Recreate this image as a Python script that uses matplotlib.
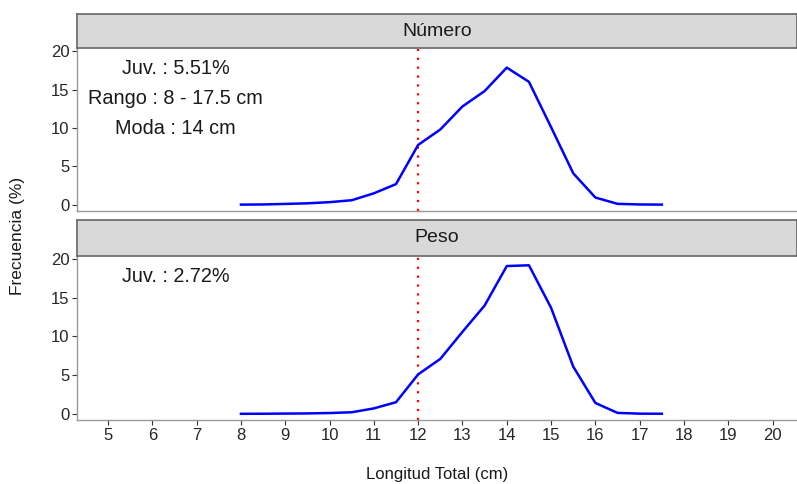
import numpy as np
import matplotlib
matplotlib.use("Agg")
import matplotlib.pyplot as plt

plt.rcParams['font.family'] = ['Liberation Sans', 'DejaVu Sans']

# longitud total (cm)
tallas = [8, 8.5, 9, 9.5, 10, 10.5, 11, 11.5, 12, 12.5, 13, 13.5, 14, 14.5,
          15, 15.5, 16, 16.5, 17, 17.5]
# frecuencia en numero (%)
numero = [0.03, 0.05, 0.12, 0.2, 0.35, 0.6, 1.5, 2.7, 7.8, 9.8, 12.8, 14.8,
          17.85, 16.0, 10.1, 4.1, 0.95, 0.13, 0.05, 0.03]
# frecuencia en peso (%)
peso = [0.0, 0.01, 0.03, 0.05, 0.1, 0.2, 0.7, 1.5, 5.1, 7.1, 10.6, 14.0,
        19.1, 19.2, 13.7, 6.1, 1.4, 0.12, 0.02, 0.01]

paneles = ['Número', 'Peso']
textos = [['Juv. : 5.51%', 'Rango : 8 - 17.5 cm', 'Moda : 14 cm'],
          ['Juv. : 2.72%']]
talla_juv = 12

W, H = 797, 484
fig = plt.figure(figsize=(W / 100, H / 100), dpi=100)

def fx(px):
    return px / W

def fy(py):
    return 1 - py / H

# pixel layout: (strip top, strip bottom, plot bottom)
layout = [(14, 48, 211), (220, 256, 420)]
left_px, right_px = 77, 797

for i, (nombre, serie) in enumerate(zip(paneles, [numero, peso])):
    st, sb, pb = layout[i]
    ax = fig.add_axes([fx(left_px), fy(pb), fx(right_px - left_px), fy(sb) - fy(pb)])
    ax.plot(tallas, serie, color='#0000FF', lw=1.8, zorder=3)
    ax.axvline(talla_juv, color='red', ls=(0, (1, 3)), lw=1.6, zorder=2)
    ax.set_xlim(4.3, 20.55)
    ax.set_ylim(-0.8, 20.4)
    ax.set_yticks([0, 5, 10, 15, 20])
    ax.set_xticks(range(5, 21))
    ax.tick_params(axis='both', colors='#333333', labelcolor='#262626', labelsize=12,
                   length=3.5, width=0.8, pad=2)
    for s in ['top', 'right']:
        ax.spines[s].set_visible(False)
    for s in ['left', 'bottom']:
        ax.spines[s].set_color('#999999')
        ax.spines[s].set_linewidth(1.0)
    if i == 0:
        ax.tick_params(axis='x', bottom=False, labelbottom=False)
    ys = [17.7, 13.8, 9.9]
    for t, y in zip(textos[i], ys):
        ax.text(6.53, y, t, ha='center', va='center', fontsize=14.3, color='#1A1A1A')

    # strip
    sax = fig.add_axes([fx(left_px), fy(sb), fx(right_px - left_px), fy(st) - fy(sb)])
    sax.set_facecolor('#D9D9D9')
    sax.set_xticks([])
    sax.set_yticks([])
    for s in sax.spines.values():
        s.set_color('#666666')
        s.set_linewidth(1.2)
    sax.text(0.5, 0.5, nombre, ha='center', va='center', fontsize=14,
             color='#1A1A1A', transform=sax.transAxes)

fig.text(fx(18), fy(236), 'Frecuencia (%)', rotation=90, ha='center', va='center',
         fontsize=12.5, color='#1A1A1A')
fig.text(fx(437), fy(475), 'Longitud Total (cm)', ha='center', va='center',
         fontsize=12, color='#1A1A1A')

fig.savefig('out.png', dpi=100)
